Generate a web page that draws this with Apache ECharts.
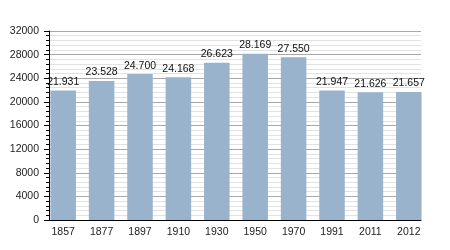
<!DOCTYPE html>
<html>
<head>
<meta charset="utf-8">
<script src="https://cdn.jsdelivr.net/npm/echarts@6/dist/echarts.min.js"></script>
<style>
html,body{margin:0;padding:0;background:#fff;}
#c{width:450px;height:250px;}
</style>
</head>
<body>
<div id="c"></div>
<script>
var years = ['1857','1877','1897','1910','1930','1950','1970','1991','2011','2012'];
var population = [21931, 23528, 24700, 24168, 26623, 28169, 27550, 21947, 21626, 21657];
var valueLabels = ['21.931','23.528','24.700','24.168','26.623','28.169','27.550','21.947','21.626','21.657'];
var yMin = 0, yMax = 32000, yStep = 4000;

var chart = echarts.init(document.getElementById('c'), null, {renderer: 'canvas'});
var font = 'Liberation Sans, Arial, sans-serif';
chart.setOption({
  animation: false,
  backgroundColor: '#fff',
  grid: [
    {left: 49, right: 29, top: 31, bottom: 30},
    {left: 44, right: 22, top: 31, bottom: 30}
  ],
  xAxis: [
    {gridIndex: 0, type: 'value', min: 0, max: 1,
     axisLine: {show: true, lineStyle: {color: '#000', width: 1}},
     axisTick: {show: false}, axisLabel: {show: false}, splitLine: {show: false}},
    {gridIndex: 1, type: 'category', data: years,
     axisLine: {show: false}, axisTick: {show: false},
     axisLabel: {color: '#222', fontSize: 10.5, fontFamily: font, margin: 7}}
  ],
  yAxis: [
    {gridIndex: 0, type: 'value', min: yMin, max: yMax, interval: yStep,
     axisLine: {show: true, lineStyle: {color: '#000', width: 1}},
     axisTick: {show: true, length: 5, lineStyle: {color: '#000'}},
     minorTick: {show: true, splitNumber: 5, length: 3, lineStyle: {color: '#000'}},
     axisLabel: {color: '#222', fontSize: 10.5, fontFamily: font, margin: 10,
                 formatter: function (v) { return String(v); }},
     splitLine: {show: true, lineStyle: {color: '#a8a8a8', width: 1}},
     minorSplitLine: {show: true, lineStyle: {color: '#e2e2e2', width: 1}}},
    {gridIndex: 1, type: 'value', min: yMin, max: yMax, interval: yStep, show: false}
  ],
  series: [{
    type: 'bar',
    xAxisIndex: 1, yAxisIndex: 1,
    data: population,
    barCategoryGap: '33.5%',
    itemStyle: {color: '#9ab3cd'},
    label: {
      show: true, position: 'top', distance: 3,
      color: '#111', fontSize: 10.5, fontFamily: font,
      formatter: function (p) { return valueLabels[p.dataIndex]; }
    }
  }]
});
</script>
</body>
</html>
